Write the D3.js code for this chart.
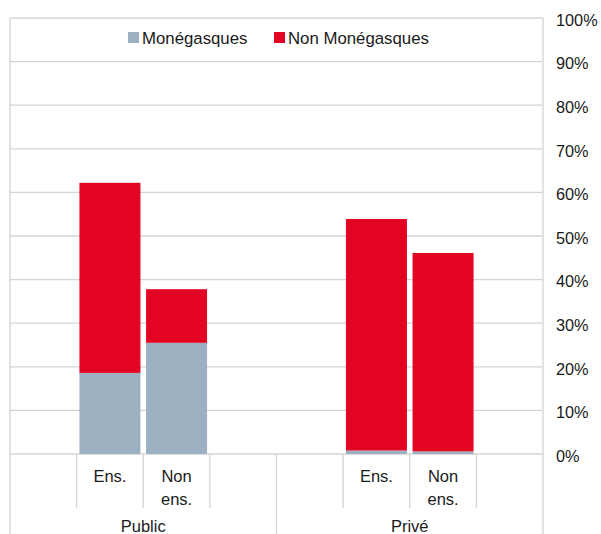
<!DOCTYPE html>
<html>
<head>
<meta charset="utf-8">
<script src="https://cdn.jsdelivr.net/npm/d3@7"></script>
<style>
  html, body { margin: 0; padding: 0; background: #fff; }
  svg { display: block; font-family: "Liberation Sans", Arial, Helvetica, sans-serif; }
</style>
</head>
<body>
<svg id="chart" width="601" height="534"></svg>
<script>
// ---- data ----
const groups = ["Public", "Privé"];
const subCategories = ["Ens.", "Non ens."];
const seriesNames = ["Monégasques", "Non Monégasques"];
const monegasques = [18.6, 25.5, 0.8, 0.6];
const nonMonegasques = [43.6, 12.3, 53.1, 45.5];
const yTicks = [0, 10, 20, 30, 40, 50, 60, 70, 80, 90, 100];
const colors = ["#9DB0C1", "#E20422"];

(function () {
// ---- layout ----
const svg = d3.select("#chart");
const pLeft = 10, pRight = 543, pTop = 18, pBottom = 454, svgH = 534;
const textColor = "#1a1a1a";
const gridColor = "#d4d4d4";

const slots = [];
groups.forEach(g => {
  slots.push(g + "|pad0");
  subCategories.forEach(s => slots.push(g + "|" + s));
  slots.push(g + "|pad1");
});
const x = d3.scaleBand().domain(slots).range([pLeft, pRight]).padding(0);
const y = d3.scaleLinear().domain([0, 100]).range([pBottom, pTop]);

const rows = [];
groups.forEach((g, gi) => subCategories.forEach((s, si) => {
  const i = gi * subCategories.length + si;
  rows.push({ key: g + "|" + s, "Monégasques": monegasques[i], "Non Monégasques": nonMonegasques[i] });
}));
const stacked = d3.stack().keys(seriesNames)(rows);

// gridlines
svg.append("g").selectAll("line").data(yTicks).join("line")
  .attr("x1", pLeft).attr("x2", pRight)
  .attr("y1", d => y(d)).attr("y2", d => y(d))
  .attr("stroke", gridColor).attr("stroke-width", 1.3);

// right axis labels
const yAxis = d3.axisRight(y).tickValues(yTicks).tickSize(0).tickPadding(13).tickFormat(d => d + "%");
const ya = svg.append("g").attr("transform", `translate(${pRight},0)`).call(yAxis);
ya.select(".domain").remove();
ya.selectAll("text").attr("font-size", 16.3).attr("fill", textColor)
  .attr("font-family", "'Liberation Sans', Arial, sans-serif").attr("dy", "0.45em");

// bars
const barW = 61;
const off = (x.bandwidth() - barW) / 2;
svg.append("g").selectAll("g").data(stacked).join("g")
  .attr("fill", (d, i) => colors[i])
  .selectAll("rect").data(d => d).join("rect")
  .attr("x", d => x(d.data.key) + off)
  .attr("width", barW)
  .attr("y", d => y(d[1]))
  .attr("height", d => y(d[0]) - y(d[1]));

// frame
const frame = svg.append("g").attr("stroke", gridColor).attr("stroke-width", 1.3);
frame.append("line").attr("x1", pLeft).attr("x2", pLeft).attr("y1", pTop).attr("y2", svgH);
frame.append("line").attr("x1", pRight).attr("x2", pRight).attr("y1", pTop).attr("y2", svgH);

// sub-level category tick lines
const subBoundaries = [];
groups.forEach(g => {
  subCategories.forEach(s => subBoundaries.push(x(g + "|" + s)));
  subBoundaries.push(x(g + "|pad1"));
});
frame.append("g").selectAll("line").data(subBoundaries).join("line")
  .attr("x1", d => d).attr("x2", d => d)
  .attr("y1", pBottom).attr("y2", 508);
// group divider
frame.append("g").selectAll("line").data(groups.slice(1)).join("line")
  .attr("x1", d => x(d + "|pad0")).attr("x2", d => x(d + "|pad0"))
  .attr("y1", pBottom).attr("y2", svgH);

// sub-category labels
const subLab = svg.append("g").attr("font-size", 16.5).attr("fill", textColor).attr("text-anchor", "middle");
groups.forEach(g => subCategories.forEach(s => {
  const cx = x(g + "|" + s) + x.bandwidth() / 2;
  const words = s.split(" ");
  const t = subLab.append("text").attr("x", cx).attr("y", 482);
  words.forEach((w, i) => t.append("tspan").attr("x", cx).attr("dy", i === 0 ? 0 : 23).text(w));
}));

// group labels
svg.append("g").selectAll("text").data(groups).join("text")
  .attr("x", d => (x(d + "|pad0") + x(d + "|pad1") + x.bandwidth()) / 2)
  .attr("y", 532)
  .attr("text-anchor", "middle").attr("font-size", 16.5).attr("fill", textColor)
  .text(d => d);

// legend
const legend = svg.append("g").attr("font-size", 16.8).attr("fill", textColor);
const legendX = [128, 274];
seriesNames.forEach((n, i) => {
  const g = legend.append("g").attr("transform", `translate(${legendX[i]},38)`);
  g.append("rect").attr("x", 0).attr("y", -6).attr("width", 11).attr("height", 11).attr("fill", colors[i]);
  g.append("text").attr("x", 14).attr("y", 0).attr("dy", "0.35em").text(n);
});
})();
</script>
</body>
</html>
